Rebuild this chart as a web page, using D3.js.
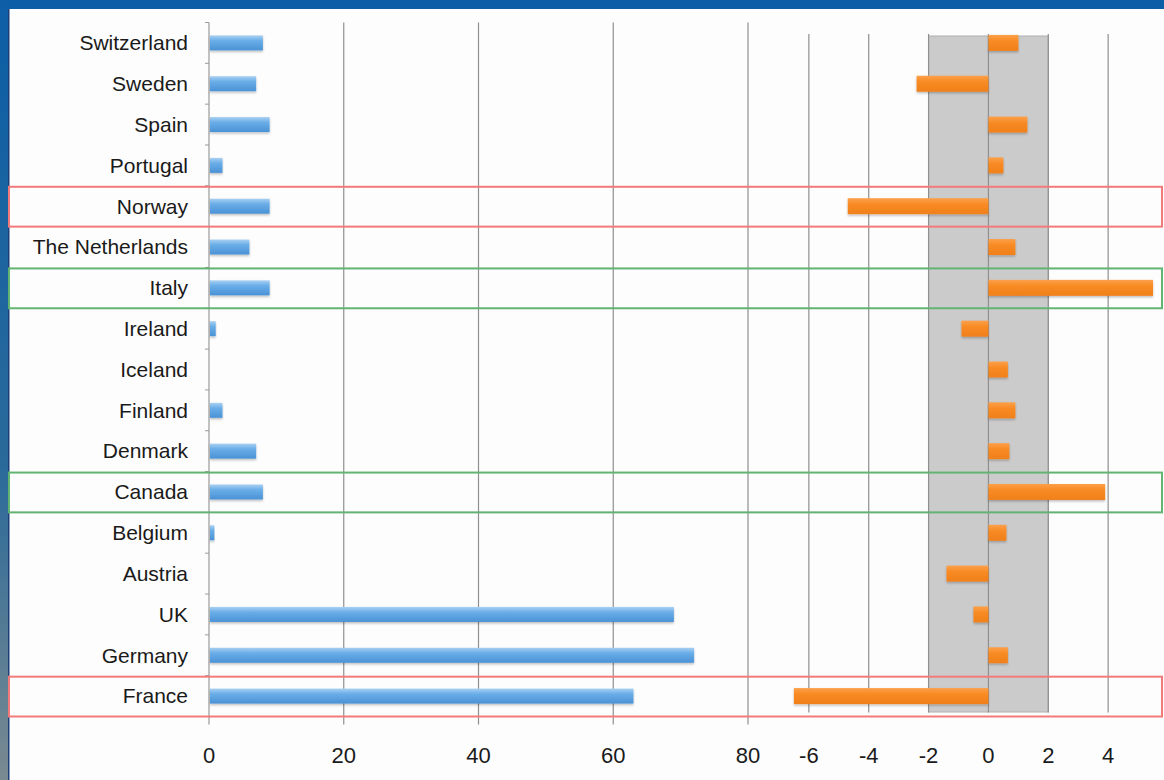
<!DOCTYPE html>
<html>
<head>
<meta charset="utf-8">
<script src="https://cdn.jsdelivr.net/npm/d3@7"></script>
<style>
  html, body { margin: 0; padding: 0; background: #fff; }
  svg { display: block; }
</style>
</head>
<body>
<svg id="chart" width="1164" height="780"></svg>
<script>
"use strict";

/* ── Data ─────────────────────────────────────────────────────────── */

const COUNTRIES = [
  "Switzerland", "Sweden", "Spain", "Portugal", "Norway", "The Netherlands",
  "Italy", "Ireland", "Iceland", "Finland", "Denmark", "Canada",
  "Belgium", "Austria", "UK", "Germany", "France"
];

/* left panel, blue bars */
const LEFT_VALUES = [8, 7, 9, 2, 9, 6, 9, 1, 0, 2, 7, 8, 0.8, 0, 69, 72, 63];

/* right panel, orange bars */
const RIGHT_VALUES = [1.0, -2.4, 1.3, 0.5, -4.7, 0.9, 5.5, -0.9, 0.65, 0.9, 0.7,
                      3.9, 0.6, -1.4, -0.5, 0.65, -6.5];

const LEFT_TICKS  = [0, 20, 40, 60, 80];
const RIGHT_TICKS = [-6, -4, -2, 0, 2, 4];

const BAND_RANGE = [-2, 2];                 // grey shaded zone
const RED_ROWS   = ["Norway", "France"];
const GREEN_ROWS = ["Italy", "Canada"];

/* ── Layout ───────────────────────────────────────────────────────── */

const W = 1164, H = 780;
const yTop = 22.5, yBottom = 716.5;

const svg = d3.select("#chart");

const y = d3.scaleBand().domain(COUNTRIES).range([yTop, yBottom]).paddingInner(0);
const xL = d3.scaleLinear().domain([0, 80]).range([209, 748]);
const xR = d3.scaleLinear().domain([-8, 6]).range([749, 1168]);

/* gradients */
const defs = svg.append("defs");
const gBlue = defs.append("linearGradient").attr("id", "gBlue")
  .attr("x1", 0).attr("y1", 0).attr("x2", 0).attr("y2", 1);
gBlue.append("stop").attr("offset", "0%").attr("stop-color", "#a9d0f2");
gBlue.append("stop").attr("offset", "35%").attr("stop-color", "#6aaee8");
gBlue.append("stop").attr("offset", "100%").attr("stop-color", "#4a92d6");

const gOrange = defs.append("linearGradient").attr("id", "gOrange")
  .attr("x1", 0).attr("y1", 0).attr("x2", 0).attr("y2", 1);
gOrange.append("stop").attr("offset", "0%").attr("stop-color", "#fca04a");
gOrange.append("stop").attr("offset", "40%").attr("stop-color", "#f88a22");
gOrange.append("stop").attr("offset", "100%").attr("stop-color", "#f0801c");

const shadow = defs.append("filter").attr("id", "shadow")
  .attr("x", "-5%").attr("y", "-30%").attr("width", "110%").attr("height", "170%");
shadow.append("feDropShadow").attr("dx", 0).attr("dy", 1.5)
  .attr("stdDeviation", 1.2).attr("flood-color", "#000").attr("flood-opacity", 0.25);

/* ── Frame (slide background) ─────────────────────────────────────── */

svg.append("rect").attr("x", 0).attr("y", 0).attr("width", W).attr("height", H).attr("fill", "#fdfdfd");
svg.append("rect").attr("x", 0).attr("y", 0).attr("width", W).attr("height", 9).attr("fill", "#0c5ea6");
const edge = defs.append("linearGradient").attr("id", "gEdge")
  .attr("x1", 0).attr("y1", 0).attr("x2", 0).attr("y2", 1);
edge.append("stop").attr("offset", "0%").attr("stop-color", "#0c5ea6");
edge.append("stop").attr("offset", "60%").attr("stop-color", "#2a6a9a");
edge.append("stop").attr("offset", "100%").attr("stop-color", "#7a8a90");
svg.append("rect").attr("x", 0).attr("y", 0).attr("width", 8).attr("height", H).attr("fill", "url(#gEdge)");
svg.append("rect").attr("x", 8).attr("y", 9).attr("width", 1.5).attr("height", H - 9).attr("fill", "#1c3f7a");

/* ── Grey band on right panel ─────────────────────────────────────── */

svg.append("rect")
  .attr("x", xR(BAND_RANGE[0]))
  .attr("y", 36)
  .attr("width", xR(BAND_RANGE[1]) - xR(BAND_RANGE[0]))
  .attr("height", 712 - 36)
  .attr("fill", "#cbcbcb")
  .attr("stroke", "#b0b0b0")
  .attr("stroke-width", 1);

/* ── Gridlines ────────────────────────────────────────────────────── */

svg.append("g").selectAll("line").data(LEFT_TICKS.slice(1)).join("line")
  .attr("x1", d => xL(d)).attr("x2", d => xL(d))
  .attr("y1", yTop).attr("y2", yBottom + 8)
  .attr("stroke", "#8f8f8f").attr("stroke-width", 1.2);

svg.append("g").selectAll("line").data(RIGHT_TICKS).join("line")
  .attr("x1", d => xR(d)).attr("x2", d => xR(d))
  .attr("y1", 34).attr("y2", yBottom - 4)
  .attr("stroke", "#8f8f8f").attr("stroke-width", 1.2);

/* ── Category axis ────────────────────────────────────────────────── */

svg.append("line")
  .attr("x1", xL(0)).attr("x2", xL(0))
  .attr("y1", yTop).attr("y2", yBottom + 8)
  .attr("stroke", "#9a9a9a").attr("stroke-width", 1.2);

svg.append("g").selectAll("line").data(COUNTRIES.concat(["_end"])).join("line")
  .attr("x1", xL(0) - 4).attr("x2", xL(0))
  .attr("y1", (d, i) => yTop + i * y.bandwidth())
  .attr("y2", (d, i) => yTop + i * y.bandwidth())
  .attr("stroke", "#9a9a9a").attr("stroke-width", 1);

svg.append("g").selectAll("text").data(COUNTRIES).join("text")
  .attr("x", 188)
  .attr("y", d => y(d) + y.bandwidth() / 2)
  .attr("dy", "0.35em")
  .attr("text-anchor", "end")
  .attr("font-family", "Liberation Sans, Arial, sans-serif")
  .attr("font-size", 21)
  .attr("fill", "#1a1a1a")
  .text(d => d);

/* ── Bars ─────────────────────────────────────────────────────────── */

const blueH = 15, orangeH = 16;

svg.append("g").selectAll("rect").data(COUNTRIES).join("rect")
  .attr("x", xL(0) + 1)
  .attr("y", d => y(d) + y.bandwidth() / 2 - blueH / 2)
  .attr("width", (d, i) => Math.max(0, xL(LEFT_VALUES[i]) - xL(0) - 1))
  .attr("height", blueH)
  .attr("fill", "url(#gBlue)")
  .attr("filter", "url(#shadow)");

svg.append("g").selectAll("rect").data(COUNTRIES).join("rect")
  .attr("x", (d, i) => xR(Math.min(0, RIGHT_VALUES[i])))
  .attr("y", d => y(d) + y.bandwidth() / 2 - orangeH / 2)
  .attr("width", (d, i) => Math.abs(xR(RIGHT_VALUES[i]) - xR(0)))
  .attr("height", orangeH)
  .attr("fill", "url(#gOrange)")
  .attr("filter", "url(#shadow)");

/* ── Highlight boxes ──────────────────────────────────────────────── */

const boxes = RED_ROWS.map(c => ({ c: c, color: "#f27a7a" }))
  .concat(GREEN_ROWS.map(c => ({ c: c, color: "#62b472" })));

svg.append("g").selectAll("rect").data(boxes).join("rect")
  .attr("x", 9)
  .attr("y", d => y(d.c) + 1)
  .attr("width", 1153)
  .attr("height", y.bandwidth() - 1)
  .attr("fill", "none")
  .attr("stroke", d => d.color)
  .attr("stroke-width", 2);

/* ── Value axes labels ────────────────────────────────────────────── */

const tickStyle = sel => sel
  .attr("y", 755)
  .attr("dy", "0.35em")
  .attr("text-anchor", "middle")
  .attr("font-family", "Liberation Sans, Arial, sans-serif")
  .attr("font-size", 22)
  .attr("fill", "#1a1a1a");

svg.append("g").selectAll("text").data(LEFT_TICKS).join("text")
  .attr("x", d => xL(d))
  .call(tickStyle)
  .text(d => d);

svg.append("g").selectAll("text").data(RIGHT_TICKS).join("text")
  .attr("x", d => xR(d))
  .call(tickStyle)
  .text(d => d);
</script>
</body>
</html>
